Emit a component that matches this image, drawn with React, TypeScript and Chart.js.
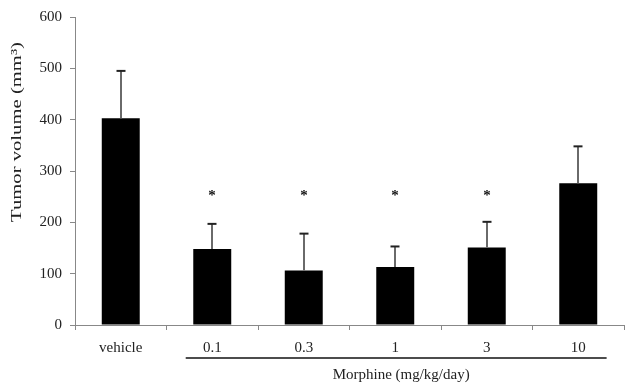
import React, { useEffect, useRef } from "react";
import { Chart, registerables } from "chart.js";

Chart.register(...registerables);

const categories = ["vehicle", "0.1", "0.3", "1", "3", "10"];
const meanVolume = [403, 148, 106, 113, 151, 276];
const errorUpper = [495, 197, 178, 153, 201, 348];
const significant = [false, true, true, true, true, false];
const starLevel = 257;
const yMin = 0;
const yMax = 600;
const yStep = 100;
const yTitle = "Tumor volume (mm³)";
const groupLabel = "Morphine (mg/kg/day)";
const groupFrom = 1;
const groupTo = 5;

const SERIF = "'Liberation Serif', 'Times New Roman', serif";

const overlayPlugin = {
  id: "overlay",
  afterDatasetsDraw(chart: any) {
    const ctx = chart.ctx as CanvasRenderingContext2D;
    const y = chart.scales.y;
    const meta = chart.getDatasetMeta(0);
    ctx.save();
    meta.data.forEach((bar: any, i: number) => {
      const cx = Math.round(bar.x);
      const yTop = y.getPixelForValue(errorUpper[i]);
      const yBar = y.getPixelForValue(meanVolume[i]);
      ctx.strokeStyle = "#6a6a6a";
      ctx.lineWidth = 2;
      ctx.beginPath();
      ctx.moveTo(cx, yBar);
      ctx.lineTo(cx, yTop);
      ctx.stroke();
      ctx.strokeStyle = "#222";
      ctx.lineWidth = 2;
      ctx.beginPath();
      ctx.moveTo(cx - 4.5, yTop);
      ctx.lineTo(cx + 4.5, yTop);
      ctx.stroke();
      if (significant[i]) {
        ctx.fillStyle = "#111";
        ctx.font = `bold 15px ${SERIF}`;
        ctx.textAlign = "center";
        ctx.textBaseline = "alphabetic";
        const m = ctx.measureText("*");
        const sy = y.getPixelForValue(starLevel);
        ctx.fillText("*", cx, sy + (m.actualBoundingBoxAscent - m.actualBoundingBoxDescent) / 2);
      }
    });
    ctx.restore();
  },
  afterDraw(chart: any) {
    const ctx = chart.ctx as CanvasRenderingContext2D;
    const x = chart.scales.x;
    const y = chart.scales.y;
    const cw = x.getPixelForValue(1) - x.getPixelForValue(0);
    ctx.save();
    const x1 = x.getPixelForValue(groupFrom) - 0.29 * cw;
    const x2 = x.getPixelForValue(groupTo) + 0.31 * cw;
    const ly = y.bottom + 33;
    ctx.strokeStyle = "#111";
    ctx.lineWidth = 1.5;
    ctx.beginPath();
    ctx.moveTo(x1, ly);
    ctx.lineTo(x2, ly);
    ctx.stroke();
    ctx.fillStyle = "#222";
    ctx.font = `15px ${SERIF}`;
    ctx.textAlign = "center";
    ctx.textBaseline = "middle";
    ctx.fillText(groupLabel, (x1 + x2) / 2 + 5, y.bottom + 50);
    // y title
    ctx.translate(17, 132);
    ctx.rotate(-Math.PI / 2);
    ctx.font = `15px ${SERIF}`;
    const w = ctx.measureText(yTitle).width;
    ctx.scale(180 / w, 1);
    ctx.fillText(yTitle, 0, 0);
    ctx.restore();
  },
};

export default function App() {
  const ref = useRef<HTMLCanvasElement | null>(null);
  useEffect(() => {
    if (!ref.current) return;
    const chart = new Chart(ref.current, {
      type: "bar",
      data: {
        labels: categories,
        datasets: [
          {
            data: meanVolume,
            backgroundColor: "#000",
            borderWidth: 0,
            categoryPercentage: 1,
            barPercentage: 0.415,
          },
        ],
      },
      options: {
        animation: false,
        responsive: true,
        maintainAspectRatio: false,
        layout: { padding: { top: 15, right: 1, left: 0, bottom: 0 } },
        plugins: { legend: { display: false }, tooltip: { enabled: false }, title: { display: false } },
        scales: {
          x: {
            afterFit: (s: any) => {
              s.height = 62;
            },
            grid: {
              display: true,
              drawOnChartArea: false,
              drawTicks: true,
              tickLength: 5,
              color: "#888",
              offset: true,
            },
            border: { display: true, color: "#888", width: 1 },
            ticks: {
              color: "#222",
              font: { family: SERIF, size: 15 },
              padding: 9,
              maxRotation: 0,
            },
          },
          y: {
            min: yMin,
            max: yMax,
            afterFit: (s: any) => {
              s.width = 75;
            },
            grid: {
              display: true,
              drawOnChartArea: false,
              drawTicks: true,
              tickLength: 5,
              color: "#888",
            },
            border: { display: true, color: "#888", width: 1 },
            ticks: {
              stepSize: yStep,
              color: "#222",
              font: { family: SERIF, size: 15 },
              padding: 8,
            },
          },
        },
      },
      plugins: [overlayPlugin],
    } as any);
    return () => chart.destroy();
  }, []);
  return (
    <div style={{ position: "fixed", left: 0, top: 0, width: 625, height: 387, background: "#fff" }}>
      <canvas ref={ref} />
    </div>
  );
}
